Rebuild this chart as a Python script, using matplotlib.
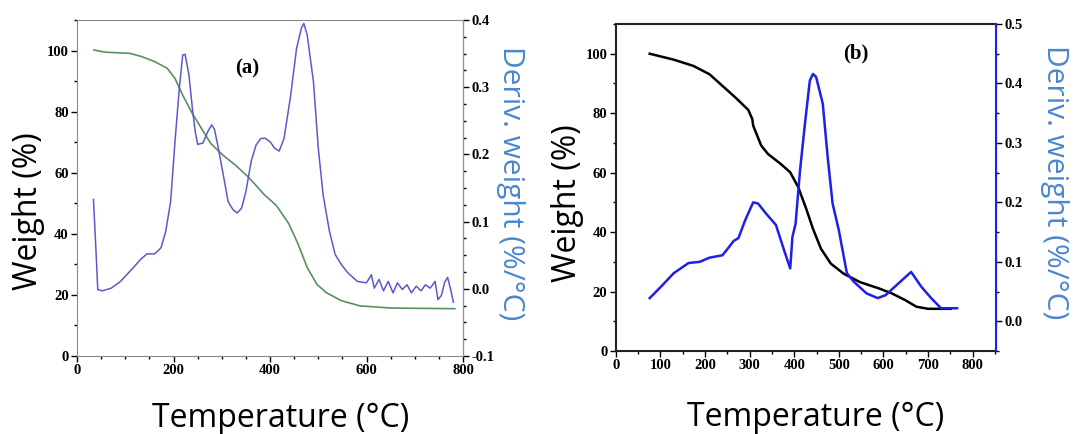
"""TGA / DTG curves, two panels (a) and (b)."""

import matplotlib
matplotlib.use("Agg")
import matplotlib.pyplot as plt
from matplotlib.ticker import MultipleLocator, FormatStrFormatter

# ---- panel (a) data ----
temp_a_w = [35, 58, 84, 110, 135, 161, 187, 203, 219, 239, 258, 277, 303, 329,
            355, 374, 387, 413, 439, 458, 477, 497, 516, 548, 587, 652, 783]
weight_a = [100.2, 99.5, 99.3, 99.1, 98.0, 96.4, 94.2, 90.9, 85.4, 79.4, 74.5,
            69.6, 65.7, 62.4, 58.6, 55.3, 53.0, 49.3, 43.3, 36.7, 29.0, 23.5,
            20.8, 18.1, 16.4, 15.7, 15.5]

temp_a_d = [34, 39, 43, 52, 71, 90, 103, 116, 132, 145, 161, 174, 184, 194,
            203, 212, 219, 224, 232, 239, 245, 250, 261, 271, 279, 285, 293,
            303, 313, 323, 332, 341, 350, 361, 371, 381, 390, 400, 410, 419,
            429, 442, 455, 465, 470, 477, 490, 500, 510, 523, 535, 548, 561,
            581, 600, 610, 616, 626, 635, 645, 655, 664, 674, 684, 693, 703,
            713, 722, 732, 742, 748, 755, 762, 768, 774, 780]
deriv_a = [0.133, 0.061, -0.001, -0.003, 0.001, 0.011, 0.021, 0.031, 0.044,
           0.052, 0.052, 0.061, 0.086, 0.130, 0.219, 0.299, 0.348, 0.349,
           0.318, 0.269, 0.234, 0.215, 0.217, 0.234, 0.244, 0.237, 0.209,
           0.170, 0.130, 0.118, 0.113, 0.120, 0.145, 0.190, 0.214, 0.224,
           0.224, 0.219, 0.209, 0.205, 0.224, 0.284, 0.358, 0.388, 0.395,
           0.378, 0.308, 0.209, 0.140, 0.086, 0.051, 0.036, 0.024, 0.011,
           0.009, 0.021, 0.001, 0.014, -0.003, 0.011, -0.006, 0.009, -0.001,
           0.006, -0.006, 0.004, -0.003, 0.006, 0.001, 0.011, -0.016, -0.010,
           0.010, 0.017, 0.000, -0.020]

# ---- panel (b) data ----
temp_b_w = [76, 130, 174, 210, 239, 268, 297, 306, 308, 326, 341, 370, 391,
            409, 427, 442, 460, 482, 511, 547, 591, 620, 649, 674, 700, 751]
weight_b = [100, 98.0, 95.9, 93.1, 89.2, 85.3, 81.1, 78.0, 75.8, 69.1, 66.3,
            62.9, 60.1, 55.1, 47.8, 41.1, 34.4, 29.4, 26.0, 23.2, 21.0, 19.3,
            17.1, 14.9, 14.2, 14.2]

temp_b_d = [76, 101, 130, 163, 188, 210, 239, 254, 264, 275, 290, 308, 319,
            337, 359, 377, 391, 396, 403, 413, 424, 435, 442, 449, 464, 475,
            486, 500, 518, 533, 562, 587, 605, 634, 662, 685, 707, 729, 765]
deriv_b = [0.039, 0.058, 0.081, 0.098, 0.100, 0.107, 0.111, 0.125, 0.135,
           0.140, 0.170, 0.200, 0.198, 0.181, 0.162, 0.120, 0.089, 0.142,
           0.164, 0.254, 0.332, 0.405, 0.416, 0.411, 0.366, 0.276, 0.198,
           0.153, 0.081, 0.067, 0.047, 0.039, 0.044, 0.064, 0.083, 0.058,
           0.039, 0.022, 0.022]

TICK_FAMILY = "Liberation Serif"
TICK_SIZE = 10.5
LABEL_FONT = "Open Sans"
DERIV_LABEL_COLOR = "#4a86d0"


def style_ticks(ax):
    ax.tick_params(which="both", direction="out", colors="black", length=4,
                   width=1, pad=2)
    ax.tick_params(which="minor", length=2.5)
    for lab in ax.get_xticklabels() + ax.get_yticklabels():
        lab.set_fontfamily(TICK_FAMILY)
        lab.set_fontweight("bold")
        lab.set_fontsize(TICK_SIZE)


fig = plt.figure(figsize=(10.88, 4.34), dpi=100)

# ---------------- panel (a) ----------------
ax1 = fig.add_axes([0.0708, 0.1797, 0.3548, 0.774])
ax1.plot(temp_a_w, weight_a, color="#5b8f62", lw=1.2)
ax1.set_xlim(0, 800)
ax1.set_ylim(0, 110)
ax1.xaxis.set_major_locator(MultipleLocator(200))
ax1.xaxis.set_minor_locator(MultipleLocator(50))
ax1.yaxis.set_major_locator(MultipleLocator(20))
ax1.yaxis.set_minor_locator(MultipleLocator(10))
for s in ["left", "bottom", "top"]:
    ax1.spines[s].set_color("#8a8a8a")
ax1.text(352, 94, "(a)", family=TICK_FAMILY, weight="bold",
         fontsize=15, ha="center", va="center")

ax1r = ax1.twinx()
ax1r.plot(temp_a_d, deriv_a, color="#5a5acd", lw=1.1)
ax1r.set_ylim(-0.1, 0.4)
ax1r.yaxis.set_major_locator(MultipleLocator(0.1))
ax1r.yaxis.set_minor_locator(MultipleLocator(0.025))
ax1r.yaxis.set_major_formatter(FormatStrFormatter("%.1f"))
ax1r.spines["right"].set_color("#8c8ccf")
for s in ["left", "bottom", "top"]:
    ax1r.spines[s].set_visible(False)
style_ticks(ax1)
style_ticks(ax1r)

fig.text(0.026, 0.514, "Weight (%)", rotation=90, ha="center", va="center",
         family=LABEL_FONT, fontsize=23)
fig.text(0.469, 0.578, "Deriv. weight (%/°C)", rotation=270, ha="center",
         va="center", family=LABEL_FONT, fontsize=21.5,
         color=DERIV_LABEL_COLOR)
fig.text(0.258, 0.035, "Temperature (°C)", ha="center", va="center",
         family=LABEL_FONT, fontsize=23)

# ---------------- panel (b) ----------------
ax2 = fig.add_axes([0.566, 0.1912, 0.3493, 0.7535])
ax2.plot(temp_b_w, weight_b, color="black", lw=1.8)
ax2.set_xlim(0, 852)
ax2.set_ylim(0, 110)
ax2.xaxis.set_major_locator(MultipleLocator(100))
ax2.xaxis.set_minor_locator(MultipleLocator(50))
ax2.yaxis.set_major_locator(MultipleLocator(20))
ax2.yaxis.set_minor_locator(MultipleLocator(10))
for s in ["left", "bottom", "top"]:
    ax2.spines[s].set_linewidth(1.5)
    ax2.spines[s].set_color("#222222")
ax2.text(538, 100, "(b)", family=TICK_FAMILY, weight="bold",
         fontsize=15, ha="center", va="center")

ax2r = ax2.twinx()
ax2r.plot(temp_b_d, deriv_b, color="#1f1fe6", lw=1.8)
ax2r.set_ylim(-0.05, 0.5)
ax2r.yaxis.set_major_locator(MultipleLocator(0.1))
ax2r.yaxis.set_minor_locator(MultipleLocator(0.05))
ax2r.yaxis.set_major_formatter(FormatStrFormatter("%.1f"))
ax2r.spines["right"].set_color("#1f1fe6")
ax2r.spines["right"].set_linewidth(1.5)
for s in ["left", "bottom", "top"]:
    ax2r.spines[s].set_visible(False)
style_ticks(ax2)
style_ticks(ax2r)

fig.text(0.522, 0.532, "Weight (%)", rotation=90, ha="center", va="center",
         family=LABEL_FONT, fontsize=23)
fig.text(0.969, 0.58, "Deriv. weight (%/°C)", rotation=270, ha="center",
         va="center", family=LABEL_FONT, fontsize=21.5,
         color=DERIV_LABEL_COLOR)
fig.text(0.75, 0.037, "Temperature (°C)", ha="center", va="center",
         family=LABEL_FONT, fontsize=23)

fig.savefig("out.png", dpi=100, facecolor="white")
